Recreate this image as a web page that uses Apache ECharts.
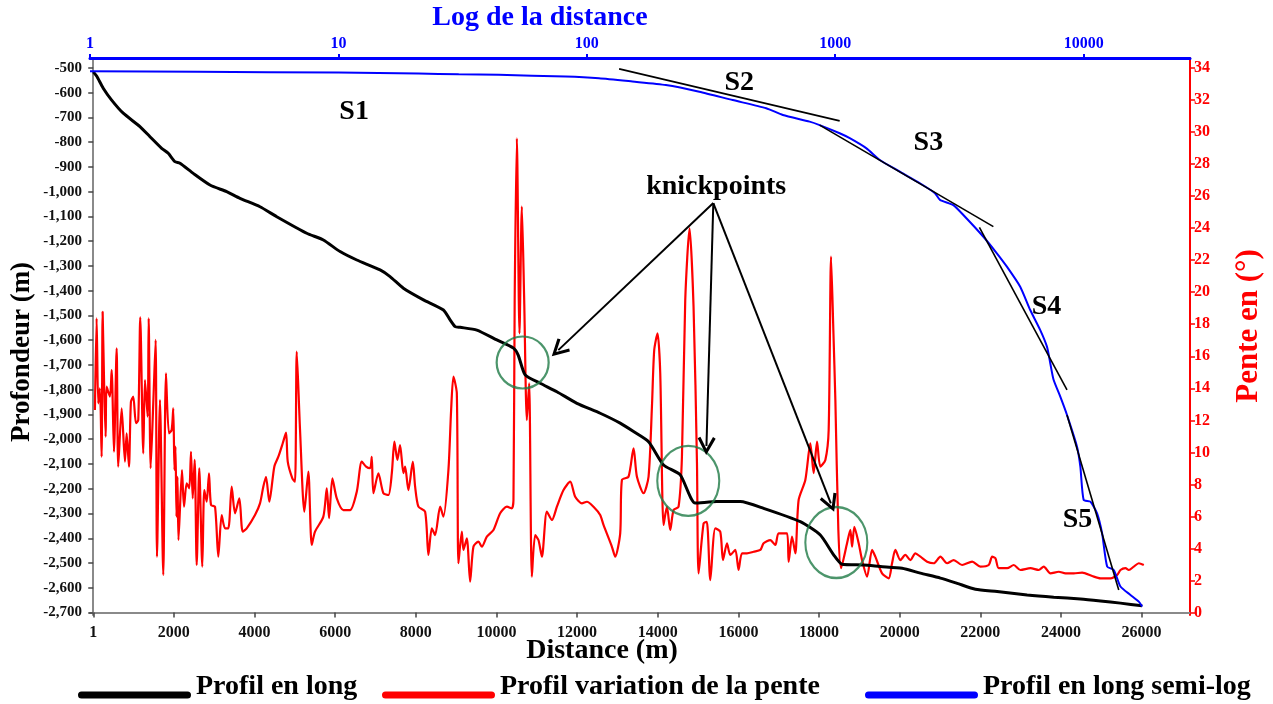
<!DOCTYPE html>
<html>
<head>
<meta charset="utf-8">
<title>Profil en long</title>
<script src="https://cdn.jsdelivr.net/npm/echarts@6/dist/echarts.min.js"></script>
<style>
  html, body { margin: 0; padding: 0; background: #ffffff; }
  #chart { width: 1273px; height: 704px; }
</style>
</head>
<body>
<div id="chart"></div>
<script>
// Longitudinal profile: [distance (m), depth (m)]
const longProfile = [
  [1, -516], [84, -533], [248, -582], [457, -630], [744, -683], [1159, -737], [1407, -778],
  [1697, -825], [1861, -845], [2027, -879], [2151, -885], [2481, -926], [2896, -973],
  [3310, -1000], [3640, -1027], [4136, -1061], [4551, -1101], [5295, -1168], [5707, -1195],
  [6122, -1242], [6536, -1276], [7114, -1316], [7362, -1343], [7692, -1390], [8189, -1437],
  [8685, -1478], [8851, -1518], [8975, -1545], [9100, -1548], [9514, -1559], [10010, -1599],
  [10422, -1632], [10539, -1660], [10712, -1740], [11084, -1774], [11499, -1808], [11995, -1855],
  [12573, -1895], [13069, -1935], [13400, -1969], [13772, -2010], [14144, -2104], [14558, -2144],
  [14931, -2258], [15469, -2252], [16047, -2252], [16625, -2279], [17536, -2333], [18032, -2387],
  [18362, -2467], [18571, -2505], [19107, -2508], [19521, -2514], [20060, -2521], [20514, -2541],
  [21010, -2561], [21424, -2582], [21878, -2606], [22417, -2615], [23161, -2629], [23821, -2638],
  [24484, -2645], [24980, -2653], [25476, -2662], [26015, -2673]
];

// Slope along the profile: [distance (m), slope (deg)]
const slopeProfile = [
  [42, 12.65], [84, 18.37], [124, 13.06], [166, 14.0], [208, 9.73], [233, 18.78], [273, 13.9],
  [308, 10.98], [332, 14.1], [414, 13.48], [457, 15.14], [514, 10.04], [581, 16.5], [620, 9.11],
  [705, 12.75], [787, 9.42], [829, 11.19], [886, 9.11], [935, 13.16], [993, 13.48], [1060, 11.82],
  [1117, 12.02], [1166, 18.43], [1241, 9.94], [1283, 14.52], [1350, 12.23], [1375, 18.37],
  [1424, 9.01], [1489, 13.06], [1548, 17.02], [1581, 3.49], [1655, 13.27], [1737, 2.35],
  [1804, 14.94], [1878, 11.19], [1945, 11.4], [1985, 12.75], [2015, 8.9], [2040, 10.36],
  [2065, 5.99], [2089, 8.48], [2114, 4.53], [2201, 8.9], [2251, 6.61], [2318, 8.07], [2382, 7.76],
  [2424, 10.04], [2467, 7.13], [2516, 9.53], [2566, 2.97], [2630, 9.01], [2705, 2.87], [2754, 7.65],
  [2814, 6.92], [2871, 8.7], [2921, 6.72], [3020, 6.61], [3102, 3.49], [3186, 6.09], [3268, 5.26],
  [3350, 5.26], [3434, 7.86], [3516, 6.2], [3623, 7.13], [3707, 5.05], [3807, 5.26], [4012, 6.09],
  [4136, 6.82], [4218, 7.86], [4285, 8.48], [4367, 6.92], [4491, 9.11], [4591, 9.73], [4700, 10.57],
  [4782, 11.23], [4824, 9.42], [4938, 8.38], [5005, 8.17], [5047, 16.29], [5129, 11.4], [5236, 6.3],
  [5335, 8.8], [5419, 4.22], [5501, 5.05], [5707, 5.99], [5792, 7.76], [5849, 5.89], [5931, 8.38],
  [6040, 7.13], [6204, 6.4], [6370, 6.4], [6536, 7.55], [6660, 9.42], [6767, 9.11], [6866, 9.01],
  [6908, 9.73], [6948, 7.45], [7072, 8.7], [7196, 7.45], [7320, 7.34], [7405, 8.7], [7469, 10.67],
  [7543, 9.53], [7610, 10.46], [7692, 8.7], [7735, 9.11], [7816, 7.65], [7926, 9.42], [7983, 7.86],
  [8065, 6.61], [8231, 6.3], [8313, 3.6], [8397, 5.26], [8479, 4.84], [8603, 6.61], [8685, 5.99],
  [8809, 8.9], [8876, 12.65], [8933, 14.73], [9017, 13.69], [9057, 3.08], [9141, 5.05], [9181, 3.91],
  [9265, 4.64], [9347, 1.93], [9429, 4.11], [9553, 4.43], [9638, 4.11], [9762, 4.74], [9926, 5.16],
  [10092, 6.2], [10258, 6.61], [10382, 6.51], [10422, 7.03], [10452, 19.5], [10506, 29.61],
  [10571, 17.43], [10630, 25.34], [10688, 19.51], [10754, 12.02], [10811, 14.31], [10878, 2.24],
  [10960, 4.84], [11042, 4.53], [11127, 3.49], [11251, 6.3], [11375, 5.78], [11499, 6.61],
  [11663, 7.65], [11829, 8.17], [11953, 7.23], [12119, 6.82], [12243, 6.92], [12407, 6.61],
  [12573, 6.09], [12655, 5.47], [12864, 4.11], [12945, 3.49], [13069, 4.95], [13112, 8.28],
  [13275, 8.48], [13400, 10.26], [13484, 8.48], [13648, 7.45], [13772, 8.48], [13856, 12.85],
  [13913, 16.39], [13995, 17.43], [14062, 14.94], [14144, 5.47], [14228, 6.61], [14310, 5.16],
  [14392, 6.4], [14516, 6.61], [14600, 9.73], [14682, 19.51], [14789, 23.99], [14888, 19.09],
  [14973, 9.32], [15013, 2.45], [15137, 5.57], [15216, 5.67], [15303, 2.03], [15427, 5.26],
  [15551, 5.05], [15618, 3.28], [15717, 4.33], [15799, 3.6], [15923, 3.91], [16005, 2.66],
  [16089, 3.7], [16213, 3.7], [16377, 3.8], [16544, 3.91], [16625, 4.33], [16791, 4.53],
  [16916, 4.22], [16998, 4.95], [17206, 4.95], [17246, 3.16], [17330, 4.74], [17412, 3.7],
  [17494, 7.03], [17660, 8.28], [17784, 10.57], [17866, 8.7], [17951, 10.67], [18032, 9.11],
  [18157, 9.53], [18239, 11.4], [18298, 22.22], [18355, 17.64], [18405, 13.27], [18479, 5.16],
  [18546, 2.78], [18695, 4.33], [18777, 5.16], [18819, 4.11], [18876, 5.36], [18983, 4.33],
  [19067, 3.28], [19191, 2.24], [19315, 3.91], [19397, 3.49], [19563, 2.45], [19727, 2.14],
  [19811, 3.08], [19893, 3.91], [20017, 3.28], [20141, 3.6], [20265, 3.28], [20389, 3.7],
  [20514, 3.49], [20680, 3.18], [20844, 3.08], [21010, 3.49], [21176, 3.08], [21340, 3.28],
  [21548, 2.97], [21797, 3.18], [22002, 2.87], [22209, 2.97], [22293, 3.49], [22375, 3.39],
  [22457, 2.77], [22665, 2.77], [22829, 2.97], [22995, 2.66], [23244, 2.77], [23449, 2.66],
  [23573, 2.87], [23740, 2.45], [23946, 2.55], [24112, 2.45], [24318, 2.45], [24526, 2.49],
  [24774, 2.28], [24980, 2.14], [25229, 2.14], [25395, 2.35], [25476, 2.66], [25600, 2.77],
  [25682, 2.66], [25806, 2.87], [25930, 3.08], [26054, 2.97]
];

// Semi-log profile: [distance (m, log scale), depth (m)]
const semiLogProfile = [
  [1, -514], [2.72, -516], [10, -519], [21, -523], [30.5, -526], [44.2, -528], [82.2, -535],
  [112, -542], [152.6, -555], [208, -569], [283.8, -596], [386.6, -630], [527.4, -663],
  [615.3, -690], [788.6, -717], [865.5, -731], [1042, -764], [1144, -784], [1336, -825],
  [1512, -872], [1820, -919], [2193, -966], [2520, -1006], [2640, -1033], [2988, -1054],
  [3279, -1094], [3949, -1182], [4473, -1249], [4909, -1303], [5554, -1384], [6094, -1478],
  [6688, -1559], [7117, -1626], [7339, -1693], [7568, -1760], [8053, -1828], [8570, -1902],
  [9404, -2030], [9698, -2111], [10000, -2245], [10641, -2252], [11325, -2299], [11865, -2380],
  [12431, -2514], [13216, -2528], [14066, -2595], [15431, -2629], [16671, -2656], [17210, -2676]
];

// Fitted segments S2..S5 on the semi-log profile: [[x0, y0], [x1, y1]]
const segmentFits = [
  [[134.9, -504], [1042, -714]],
  [[865.5, -731], [4331, -1141]],
  [[3805, -1144], [8570, -1801]],
  [[8570, -1902], [13845, -2609]]
];

// Knickpoints on the longitudinal profile: [distance, depth]
const knickpoints = [[10650, -1690], [14757, -2168], [18429, -2417]];

// Callout: text anchor and arrow targets (distance, depth)
const calloutOrigin = [15378, -1046];
const calloutTargets = [[11534, -1640], [15208, -2027], [18293, -2259]];

// Segment names and their anchors (distance, depth)
const segmentNames = ['S1', 'S2', 'S3', 'S4', 'S5', 'knickpoints'];
const segmentNameAnchors = [[6470, -678], [16022, -561], [20712, -803], [23641, -1466], [24410, -2326], [15449, -981]];

// Tick values
const depthTicks = [-500, -600, -700, -800, -900, -1000, -1100, -1200, -1300, -1400, -1500, -1600,
  -1700, -1800, -1900, -2000, -2100, -2200, -2300, -2400, -2500, -2600, -2700];
const slopeTicks = [0, 2, 4, 6, 8, 10, 12, 14, 16, 18, 20, 22, 24, 26, 28, 30, 32, 34];
const distanceTicks = [1, 2000, 4000, 6000, 8000, 10000, 12000, 14000, 16000, 18000, 20000,
  22000, 24000, 26000];

const FONT = '"Liberation Serif", "Times New Roman", serif';
const BLUE = '#0000ff';
const RED = '#ff0000';
const GREEN = '#1f7b46';
const AXIS_GREY = '#8a8a8a';

const circleSizes = [[52, 52], [62, 70], [62, 71]];

// Legend swatch: a rounded bar sitting in the lower part of its box
const LEGEND_BAR = 'path://M0,0L0.1,0Z M3.5,16 L109.5,16 A3.5,3.5 0 0 1 109.5,23 L3.5,23 A3.5,3.5 0 0 1 3.5,16 Z';

const chart = echarts.init(document.getElementById('chart'), null, { renderer: 'canvas' });

const boldText = (size, color) => ({
  fontFamily: FONT, fontWeight: 'bold', fontSize: size, color: color
});

const legendCommon = {
  orient: 'horizontal',
  top: 667,
  icon: LEGEND_BAR,
  itemWidth: 113,
  itemHeight: 23,
  itemGap: 0,
  selectedMode: false,
  textStyle: Object.assign(boldText(28, '#000000'), { lineHeight: 30 })
};

const option = {
  animation: false,
  backgroundColor: '#ffffff',
  grid: { left: 90, right: 83, top: 58, bottom: 89, containLabel: false },
  legend: [
    Object.assign({ data: ['Profil en long'], left: 73 }, legendCommon),
    Object.assign({ data: ['Profil variation de la pente'], left: 377 }, legendCommon),
    Object.assign({ data: ['Profil en long semi-log'], left: 860 }, legendCommon)
  ],
  graphic: [
    { type: 'text', x: 540, y: 18, style: { text: 'Log de la distance', font: 'bold 28px ' + FONT, fill: BLUE, align: 'center', verticalAlign: 'middle' } },
    { type: 'text', x: 602, y: 651, style: { text: 'Distance (m)', font: 'bold 28px ' + FONT, fill: '#000000', align: 'center', verticalAlign: 'middle' } },
    { type: 'text', x: 22, y: 352, rotation: Math.PI / 2, style: { text: 'Profondeur (m)', font: 'bold 27px ' + FONT, fill: '#000000', align: 'center', verticalAlign: 'middle' } },
    { type: 'text', x: 1249, y: 326, rotation: Math.PI / 2, style: { text: 'Pente en (°)', font: 'bold 31px ' + FONT, fill: RED, align: 'center', verticalAlign: 'middle' } }
  ],
  xAxis: [
    {
      type: 'value', position: 'bottom', min: -80, max: 27200,
      axisLine: { show: true, lineStyle: { color: AXIS_GREY, width: 2 } },
      axisTick: { show: true, customValues: distanceTicks, length: 5, lineStyle: { color: '#444', width: 1.5 } },
      axisLabel: Object.assign({ customValues: distanceTicks, margin: 10, formatter: v => String(v) }, boldText(16, '#111111')),
      splitLine: { show: false }
    },
    {
      type: 'log', logBase: 10, position: 'top', min: 1, max: 26800,
      axisLine: { show: true, lineStyle: { color: BLUE, width: 3 } },
      axisTick: { show: true, length: 4, lineStyle: { color: BLUE, width: 2 } },
      axisLabel: Object.assign({ margin: 6, showMaxLabel: false, formatter: v => String(v) }, boldText(16, BLUE)),
      splitLine: { show: false },
      minorTick: { show: false }
    }
  ],
  yAxis: [
    {
      type: 'value', position: 'left', min: -2710, max: -460,
      axisLine: { show: true, lineStyle: { color: AXIS_GREY, width: 2 } },
      axisTick: { show: true, customValues: depthTicks, length: 5, lineStyle: { color: '#444', width: 1.5 } },
      axisLabel: Object.assign({ customValues: depthTicks, margin: 8, formatter: v => v.toLocaleString('en-US') }, boldText(15, '#111111')),
      splitLine: { show: false }
    },
    {
      type: 'value', position: 'right', min: -0.15, max: 34.62,
      axisLine: { show: true, lineStyle: { color: RED, width: 2 } },
      axisTick: { show: true, customValues: slopeTicks, length: 5, lineStyle: { color: RED, width: 1.5 } },
      axisLabel: Object.assign({ customValues: slopeTicks, margin: 4 }, boldText(16, RED)),
      splitLine: { show: false }
    }
  ],
  series: [
    {
      name: 'Profil variation de la pente', type: 'line', xAxisIndex: 0, yAxisIndex: 1,
      data: slopeProfile, showSymbol: false, symbol: 'none', smooth: 0.25,
      lineStyle: { color: RED, width: 2.2 }, itemStyle: { color: RED }, z: 2
    },
    {
      name: 'Profil en long', type: 'line', xAxisIndex: 0, yAxisIndex: 0,
      data: longProfile, showSymbol: false, symbol: 'none', smooth: 0.2,
      lineStyle: { color: '#000000', width: 3 }, itemStyle: { color: '#000000' }, z: 3
    },
    {
      name: 'Profil en long semi-log', type: 'line', xAxisIndex: 1, yAxisIndex: 0,
      data: semiLogProfile, showSymbol: false, symbol: 'none', smooth: 0.2,
      lineStyle: { color: BLUE, width: 2 }, itemStyle: { color: BLUE }, z: 3
    },
    {
      name: 'segments', type: 'lines', coordinateSystem: 'cartesian2d', xAxisIndex: 1, yAxisIndex: 0,
      data: segmentFits.map(s => ({ coords: s })),
      lineStyle: { color: '#000000', width: 1.6, opacity: 1 }, symbol: ['none', 'none'], z: 4
    },
    {
      name: 'knickpoint circles', type: 'scatter', xAxisIndex: 0, yAxisIndex: 0,
      data: knickpoints.map((p, i) => ({ value: p, symbolSize: circleSizes[i] })),
      symbol: 'circle',
      itemStyle: { color: 'rgba(0,0,0,0)', borderColor: GREEN, borderWidth: 2.2 }, z: 5,
      silent: true
    },
    {
      name: 'callout arrows', type: 'lines', coordinateSystem: 'cartesian2d', xAxisIndex: 0, yAxisIndex: 0,
      data: calloutTargets.map(t => ({ coords: [calloutOrigin, t] })),
      symbol: ['none', 'path://M5,0L10,10L8.5,11L5,3.8L1.5,11L0,10Z'], symbolSize: 18,
      lineStyle: { color: '#000000', width: 2, opacity: 1 }, itemStyle: { color: '#000000' }, z: 6
    },
    {
      name: 'names', type: 'scatter', xAxisIndex: 0, yAxisIndex: 0,
      data: segmentNames.map((n, i) => ({ name: n, value: segmentNameAnchors[i] })),
      symbolSize: 1, itemStyle: { color: 'rgba(0,0,0,0)' }, z: 7, silent: true,
      label: Object.assign({ show: true, position: 'inside', formatter: '{b}', textBorderWidth: 0, opacity: 1 }, boldText(28, '#000000'))
    }
  ]
};

chart.setOption(option);
</script>
</body>
</html>
